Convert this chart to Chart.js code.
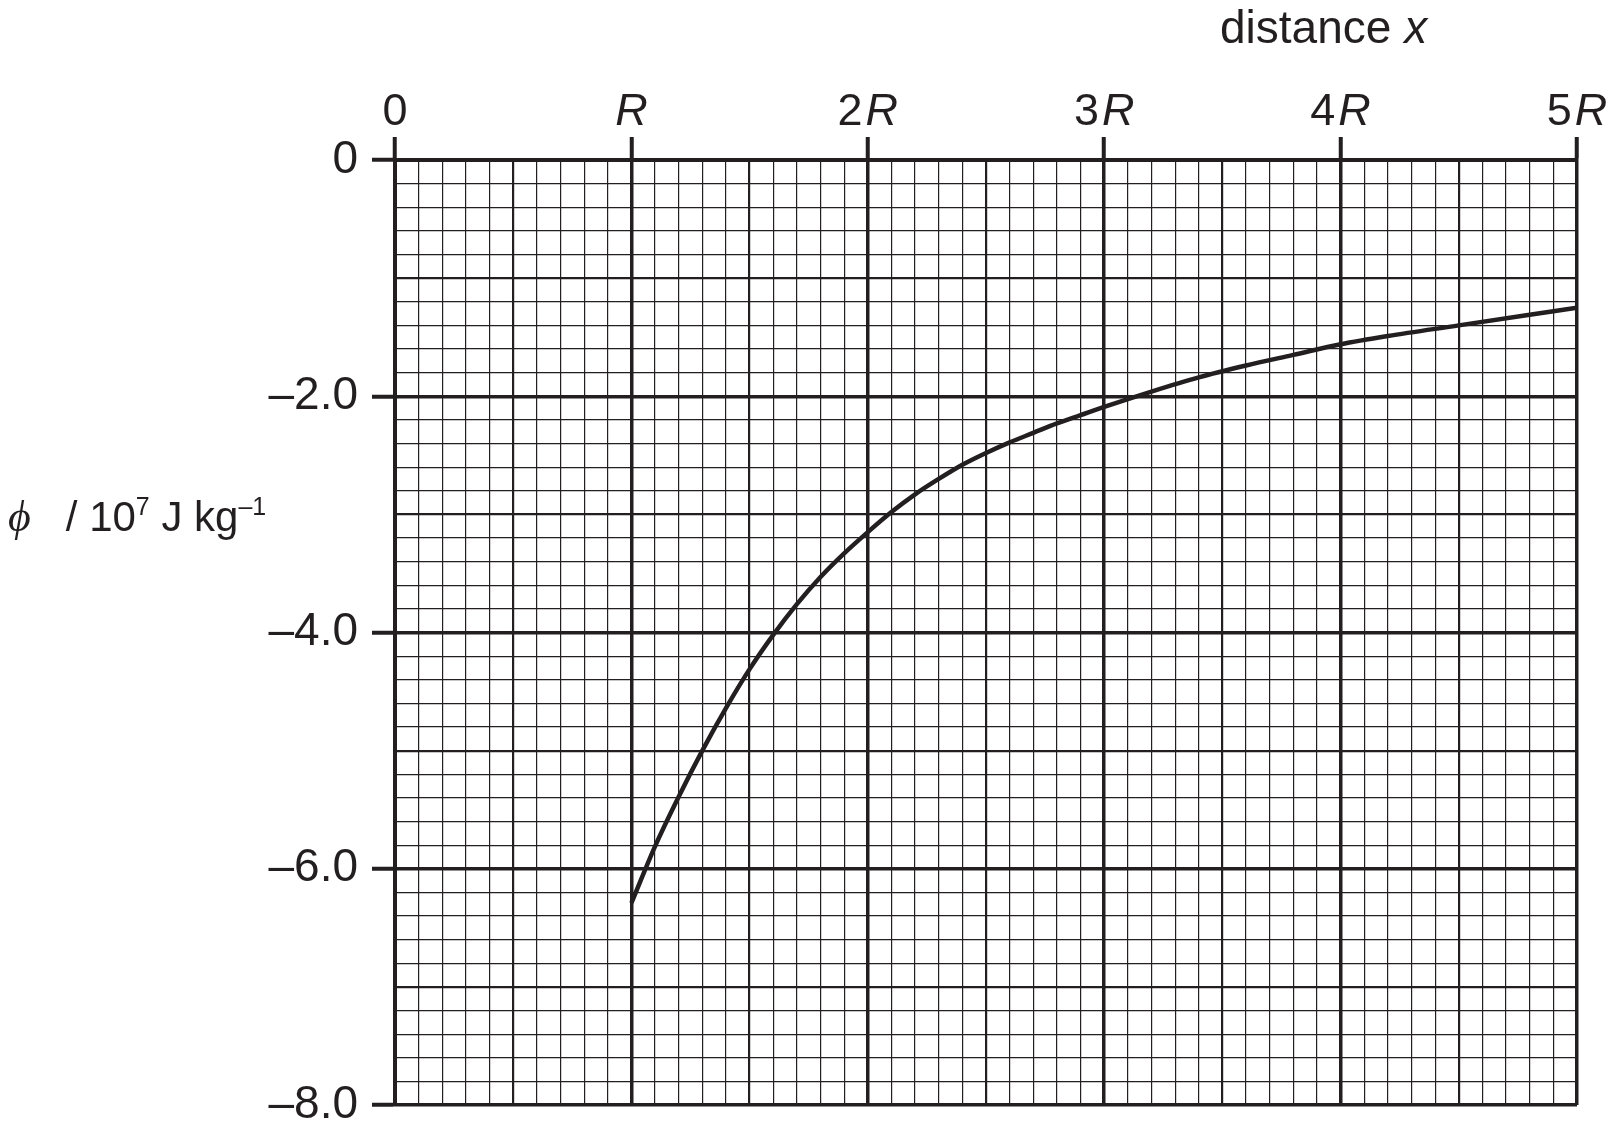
<!DOCTYPE html>
<html>
<head>
<meta charset="utf-8">
<title>Gravitational potential against distance</title>
<script src="https://cdn.jsdelivr.net/npm/chart.js@4.4.1/dist/chart.umd.min.js"></script>
<style>
  html, body { margin: 0; padding: 0; background: #fff; }
  #wrap { position: relative; width: 1618px; height: 1133px; }
  .lbl {
    position: absolute;
    font-family: "Liberation Sans", Arial, Helvetica, sans-serif;
    color: #231f20;
    line-height: 1;
    white-space: nowrap;
  }
  .sup { position: relative; top: -16px; font-size: 25px; }
</style>
</head>
<body>
<div id="wrap">
  <canvas id="phiChart"></canvas>
  <div class="lbl" style="left:1220px; top:4px; font-size:46px;">distance <i>x</i></div>
  <div class="lbl" style="left:8px; top:495px; font-size:42px;"><i style="font-family:'Liberation Serif','DejaVu Serif',serif; font-size:44px;">ϕ</i>&nbsp;&nbsp; / 10<span class="sup">7</span> J kg<span class="sup">–1</span></div>
</div>
<script>
// distance in units of R, potential in 10^7 J/kg
const distanceR = [1.0, 1.1, 1.2, 1.3, 1.4, 1.5, 1.6, 1.7, 1.8, 1.9, 2.0,
                   2.1, 2.2, 2.3, 2.4, 2.5, 2.6, 2.7, 2.8, 2.9, 3.0,
                   3.2, 3.4, 3.6, 3.8, 4.0, 4.2, 4.5, 4.8, 5.0];
const potential = [-6.29, -5.81, -5.39, -5.00, -4.64, -4.31, -4.02, -3.76, -3.53, -3.33, -3.15,
                   -2.98, -2.83, -2.70, -2.58, -2.48, -2.39, -2.31, -2.23, -2.16, -2.09,
                   -1.96, -1.84, -1.74, -1.65, -1.56, -1.49, -1.40, -1.31, -1.25];

// tick labels
const xTickLabels = ['0', 'R', '2R', '3R', '4R', '5R'];
const yTickLabels = ['0', '–2.0', '–4.0', '–6.0', '–8.0'];

const ink = '#231f20';
const font = '"Liberation Sans", Arial, Helvetica, sans-serif';

function xWidth(v) {
    const t = Math.round(v * 10);
    if (t % 10 === 0) return 3.5;
    if (t % 5 === 0) return 2.2;
    return 1.2;
}
function yWidth(v) {
    const t = Math.round(v * 5);
    if (t % 5 !== 0) return 1.2;
    return (t / 5) % 2 === 0 ? 3.5 : 2.2;
}

// x labels sit above the plot, number upright and R in italics
const topLabels = {
    id: 'topLabels',
    afterDraw(chart) {
        const sx = chart.scales.x;
        const ctx = chart.ctx;
        const base = chart.chartArea.top - 35;
        ctx.save();
        ctx.fillStyle = ink;
        ctx.textBaseline = 'alphabetic';
        ctx.textAlign = 'left';
        xTickLabels.forEach((lab, i) => {
            const num = lab.replace('R', '');
            const unit = lab.endsWith('R') ? 'R' : '';
            ctx.font = '45px ' + font;
            const w1 = ctx.measureText(num).width;
            ctx.font = 'italic 45px ' + font;
            const w2 = ctx.measureText(unit).width;
            const gap = num && unit ? 3 : 0;
            let x0 = sx.getPixelForValue(i) - (w1 + gap + w2) / 2;
            ctx.font = '45px ' + font;
            ctx.fillText(num, x0, base);
            ctx.font = 'italic 45px ' + font;
            ctx.fillText(unit, x0 + w1 + gap, base);
        });
        ctx.restore();
    }
};

const points = distanceR.map((d, i) => ({ x: d, y: potential[i] }));

new Chart(document.getElementById('phiChart'), {
    type: 'line',
    data: {
        datasets: [{
            data: points,
            borderColor: ink,
            borderWidth: 4.5,
            pointRadius: 0,
            fill: false,
            cubicInterpolationMode: 'monotone'
        }]
    },
    options: {
        responsive: true,
        maintainAspectRatio: false,
        animation: false,
        layout: { padding: { top: 0, right: 41, bottom: 28, left: 0 } },
        plugins: { legend: { display: false }, tooltip: { enabled: false } },
        scales: {
            x: {
                type: 'linear',
                position: 'top',
                min: 0,
                max: 5,
                ticks: { stepSize: 0.1, autoSkip: false, maxRotation: 0, callback: () => '' },
                grid: {
                    color: ink,
                    lineWidth: c => xWidth(c.tick.value),
                    tickLength: 23,
                    tickWidth: 4,
                    tickColor: c => Math.round(c.tick.value * 10) % 10 === 0 ? ink : 'rgba(0,0,0,0)'
                },
                border: { width: 4, color: ink },
                afterFit(scale) { scale.height = 160; }
            },
            y: {
                type: 'linear',
                min: -8,
                max: 0,
                ticks: {
                    stepSize: 0.2,
                    autoSkip: false,
                    padding: 14,
                    color: ink,
                    font: { family: font, size: 46, lineHeight: 0.4 },
                    callback: v => {
                        const t = Math.round(v * 5);
                        if (t % 10 !== 0) return '';
                        return yTickLabels[-t / 10];
                    }
                },
                grid: {
                    color: ink,
                    lineWidth: c => yWidth(c.tick.value),
                    tickLength: 23,
                    tickWidth: 4,
                    tickColor: c => Math.round(c.tick.value * 5) % 10 === 0 ? ink : 'rgba(0,0,0,0)'
                },
                border: { width: 4, color: ink },
                afterFit(scale) { scale.width = 395; }
            }
        }
    },
    plugins: [topLabels]
});
</script>
</body>
</html>
